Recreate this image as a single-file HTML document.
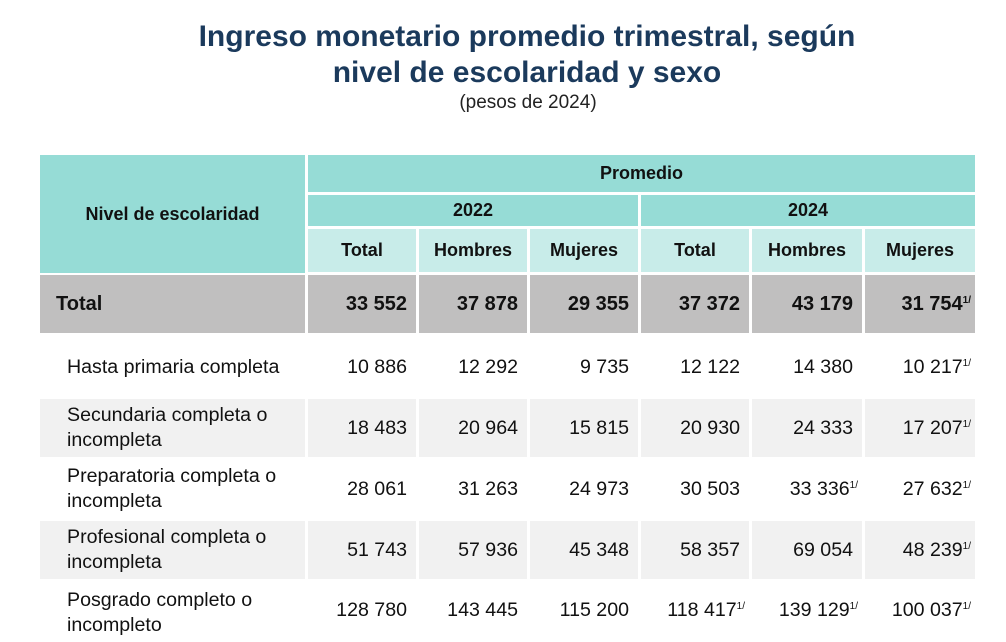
<!DOCTYPE html>
<html><head><meta charset="utf-8"><style>
body{margin:0;width:1006px;height:620px;overflow:hidden;background:#fff;font-family:"Liberation Sans",Arial,sans-serif;position:relative}
.a{position:absolute;box-sizing:border-box;display:flex;align-items:center}
.t{color:#1b3a5c;font-weight:bold;font-size:30px;text-align:center;position:absolute;left:0;width:1054px;white-space:nowrap}
.h{background:#96dcd6;justify-content:center;font-weight:bold;font-size:18px;color:#111}
.s{background:#c8ece9;justify-content:center;font-weight:bold;font-size:18px;color:#111}
.g{background:#c0bfbf;font-weight:bold;font-size:20px;color:#111;justify-content:flex-end;padding-right:9px}
.n{font-size:19.6px;color:#111;justify-content:flex-end;padding-right:9px}
.l{font-size:19.6px;color:#111;padding-left:27px;line-height:25px}
.w{background:#f1f1f1}
sup{font-size:10px;vertical-align:7px;line-height:0}
</style></head><body>
<div class="t" style="top:20px">Ingreso monetario promedio trimestral, según</div>
<div class="t" style="top:56px">nivel de escolaridad y sexo</div>
<div style="position:absolute;top:92px;left:0;width:1056px;text-align:center;font-size:19px;color:#222">(pesos de 2024)</div>

<div class="a h" style="left:40px;top:155px;width:265px;height:118px">Nivel de escolaridad</div>
<div class="a h" style="left:308px;top:155px;width:667px;height:37px">Promedio</div>
<div class="a h" style="left:308px;top:195px;width:330px;height:31px">2022</div>
<div class="a h" style="left:641px;top:195px;width:334px;height:31px">2024</div>
<div class="a s" style="left:308px;top:229px;width:108px;height:43px">Total</div>
<div class="a s" style="left:419px;top:229px;width:108px;height:43px">Hombres</div>
<div class="a s" style="left:530px;top:229px;width:108px;height:43px">Mujeres</div>
<div class="a s" style="left:641px;top:229px;width:108px;height:43px">Total</div>
<div class="a s" style="left:752px;top:229px;width:110px;height:43px">Hombres</div>
<div class="a s" style="left:865px;top:229px;width:110px;height:43px">Mujeres</div>

<div class="a g" style="left:40px;top:275px;width:265px;height:58px;justify-content:flex-start;padding-left:16px">Total</div>
<div class="a g" style="left:308px;top:275px;width:108px;height:58px">33 552</div>
<div class="a g" style="left:419px;top:275px;width:108px;height:58px">37 878</div>
<div class="a g" style="left:530px;top:275px;width:108px;height:58px">29 355</div>
<div class="a g" style="left:641px;top:275px;width:108px;height:58px">37 372</div>
<div class="a g" style="left:752px;top:275px;width:110px;height:58px">43 179</div>
<div class="a g" style="left:865px;top:275px;width:110px;height:58px;padding-right:4px"><span>31 754<sup>1/</sup></span></div>

<div class="a l" style="left:40px;top:338px;width:265px;height:58px">Hasta primaria completa</div>
<div class="a n" style="left:308px;top:338px;width:108px;height:58px">10 886</div>
<div class="a n" style="left:419px;top:338px;width:108px;height:58px">12 292</div>
<div class="a n" style="left:530px;top:338px;width:108px;height:58px">9 735</div>
<div class="a n" style="left:641px;top:338px;width:108px;height:58px">12 122</div>
<div class="a n" style="left:752px;top:338px;width:110px;height:58px">14 380</div>
<div class="a n" style="left:865px;top:338px;width:110px;height:58px;padding-right:4px"><span>10 217<sup>1/</sup></span></div>

<div class="a l w" style="left:40px;top:399px;width:265px;height:58px">Secundaria completa o<br>incompleta</div>
<div class="a n w" style="left:308px;top:399px;width:108px;height:58px">18 483</div>
<div class="a n w" style="left:419px;top:399px;width:108px;height:58px">20 964</div>
<div class="a n w" style="left:530px;top:399px;width:108px;height:58px">15 815</div>
<div class="a n w" style="left:641px;top:399px;width:108px;height:58px">20 930</div>
<div class="a n w" style="left:752px;top:399px;width:110px;height:58px">24 333</div>
<div class="a n w" style="left:865px;top:399px;width:110px;height:58px;padding-right:4px"><span>17 207<sup>1/</sup></span></div>

<div class="a l" style="left:40px;top:460px;width:265px;height:58px">Preparatoria completa o<br>incompleta</div>
<div class="a n" style="left:308px;top:460px;width:108px;height:58px">28 061</div>
<div class="a n" style="left:419px;top:460px;width:108px;height:58px">31 263</div>
<div class="a n" style="left:530px;top:460px;width:108px;height:58px">24 973</div>
<div class="a n" style="left:641px;top:460px;width:108px;height:58px">30 503</div>
<div class="a n" style="left:752px;top:460px;width:110px;height:58px;padding-right:4px"><span>33 336<sup>1/</sup></span></div>
<div class="a n" style="left:865px;top:460px;width:110px;height:58px;padding-right:4px"><span>27 632<sup>1/</sup></span></div>

<div class="a l w" style="left:40px;top:521px;width:265px;height:58px">Profesional completa o<br>incompleta</div>
<div class="a n w" style="left:308px;top:521px;width:108px;height:58px">51 743</div>
<div class="a n w" style="left:419px;top:521px;width:108px;height:58px">57 936</div>
<div class="a n w" style="left:530px;top:521px;width:108px;height:58px">45 348</div>
<div class="a n w" style="left:641px;top:521px;width:108px;height:58px">58 357</div>
<div class="a n w" style="left:752px;top:521px;width:110px;height:58px">69 054</div>
<div class="a n w" style="left:865px;top:521px;width:110px;height:58px;padding-right:4px"><span>48 239<sup>1/</sup></span></div>

<div class="a l" style="left:40px;top:584px;width:265px;height:58px;align-items:flex-start;padding-top:4px">Posgrado completo o<br>incompleto</div>
<div class="a n" style="left:308px;top:584px;width:108px;height:58px;align-items:flex-start;padding-top:15px">128 780</div>
<div class="a n" style="left:419px;top:584px;width:108px;height:58px;align-items:flex-start;padding-top:15px">143 445</div>
<div class="a n" style="left:530px;top:584px;width:108px;height:58px;align-items:flex-start;padding-top:15px">115 200</div>
<div class="a n" style="left:641px;top:584px;width:108px;height:58px;align-items:flex-start;padding-top:15px;padding-right:4px"><span>118 417<sup>1/</sup></span></div>
<div class="a n" style="left:752px;top:584px;width:110px;height:58px;align-items:flex-start;padding-top:15px;padding-right:4px"><span>139 129<sup>1/</sup></span></div>
<div class="a n" style="left:865px;top:584px;width:110px;height:58px;align-items:flex-start;padding-top:15px;padding-right:4px"><span>100 037<sup>1/</sup></span></div>
</body></html>
